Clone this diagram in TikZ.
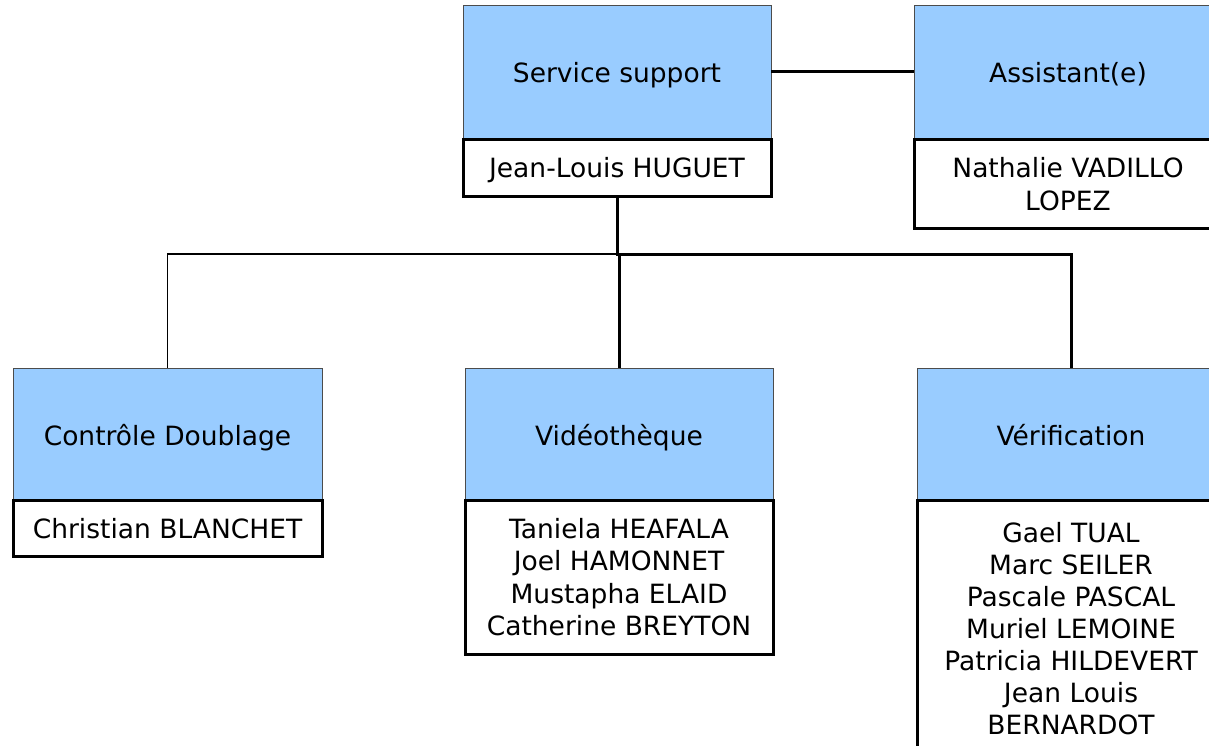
\documentclass[tikz,border=0pt]{standalone}
\usepackage{fontspec}
\setmainfont{DejaVu Sans}
\definecolor{unitblue}{HTML}{99CCFF}
\begin{document}
\begin{tikzpicture}[x=1pt,y=-1pt,
  unit/.style={draw=black!70, line width=0.8pt, fill=unitblue, minimum width=308pt,
    minimum height=134pt, inner sep=0pt, outer sep=0pt, text height=22pt, text depth=0pt,
    font=\fontsize{26.5}{32}\selectfont},
  names/.style={draw=black, line width=3pt, fill=white, minimum width=308pt, align=center,
    inner sep=0pt, outer sep=0pt, anchor=north, font=\fontsize{26.5}{32.5}\selectfont},
  oneline/.style={names, minimum height=56pt, text height=20pt, text depth=0pt},
  strong link/.style={line width=3pt},
  light link/.style={line width=1.5pt}]
\useasboundingbox (0,0) rectangle (1209,746);
\clip (0,0) rectangle (1209,746);

% top level
\node[unit] (ss) at (617,72) {Service support};
\node[oneline] (hug) at (617,140) {Jean-Louis HUGUET};
\node[unit] (as) at (1068,72) {Assistant(e)};
\node[names, minimum height=88pt] (nath) at (1068,140) {Nathalie VADILLO\\LOPEZ};

% second level
\node[unit, minimum height=132pt, minimum width=309pt] (cd) at (167.5,434) {Contrôle Doublage};
\node[oneline, minimum width=309pt] (chr) at (167.5,500) {Christian BLANCHET};
\node[unit, minimum height=132pt] (vid) at (619,434) {Vidéothèque};
\node[names, minimum height=154pt] (vidn) at (619,500) {Taniela HEAFALA\\Joel HAMONNET\\Mustapha ELAID\\Catherine BREYTON};
\node[unit, minimum height=132pt] (ver) at (1071,434) {Vérification};
\node[names, font=\fontsize{26.5}{32}\selectfont, minimum height=258pt] (vern) at (1071,500) {Gael TUAL\\Marc SEILER\\Pascale PASCAL\\Muriel LEMOINE\\Patricia HILDEVERT\\Jean Louis\\BERNARDOT};

% connectors
\coordinate (bus) at (617,254);
\draw[strong link] (ss.east) -- (as.west);
\draw[strong link] (hug.south) -- (bus) -| (ver.north);
\draw[strong link] (bus -| vid.north) -- (vid.north);
\draw[light link] (bus) -| (cd.north);
\end{tikzpicture}
\end{document}
